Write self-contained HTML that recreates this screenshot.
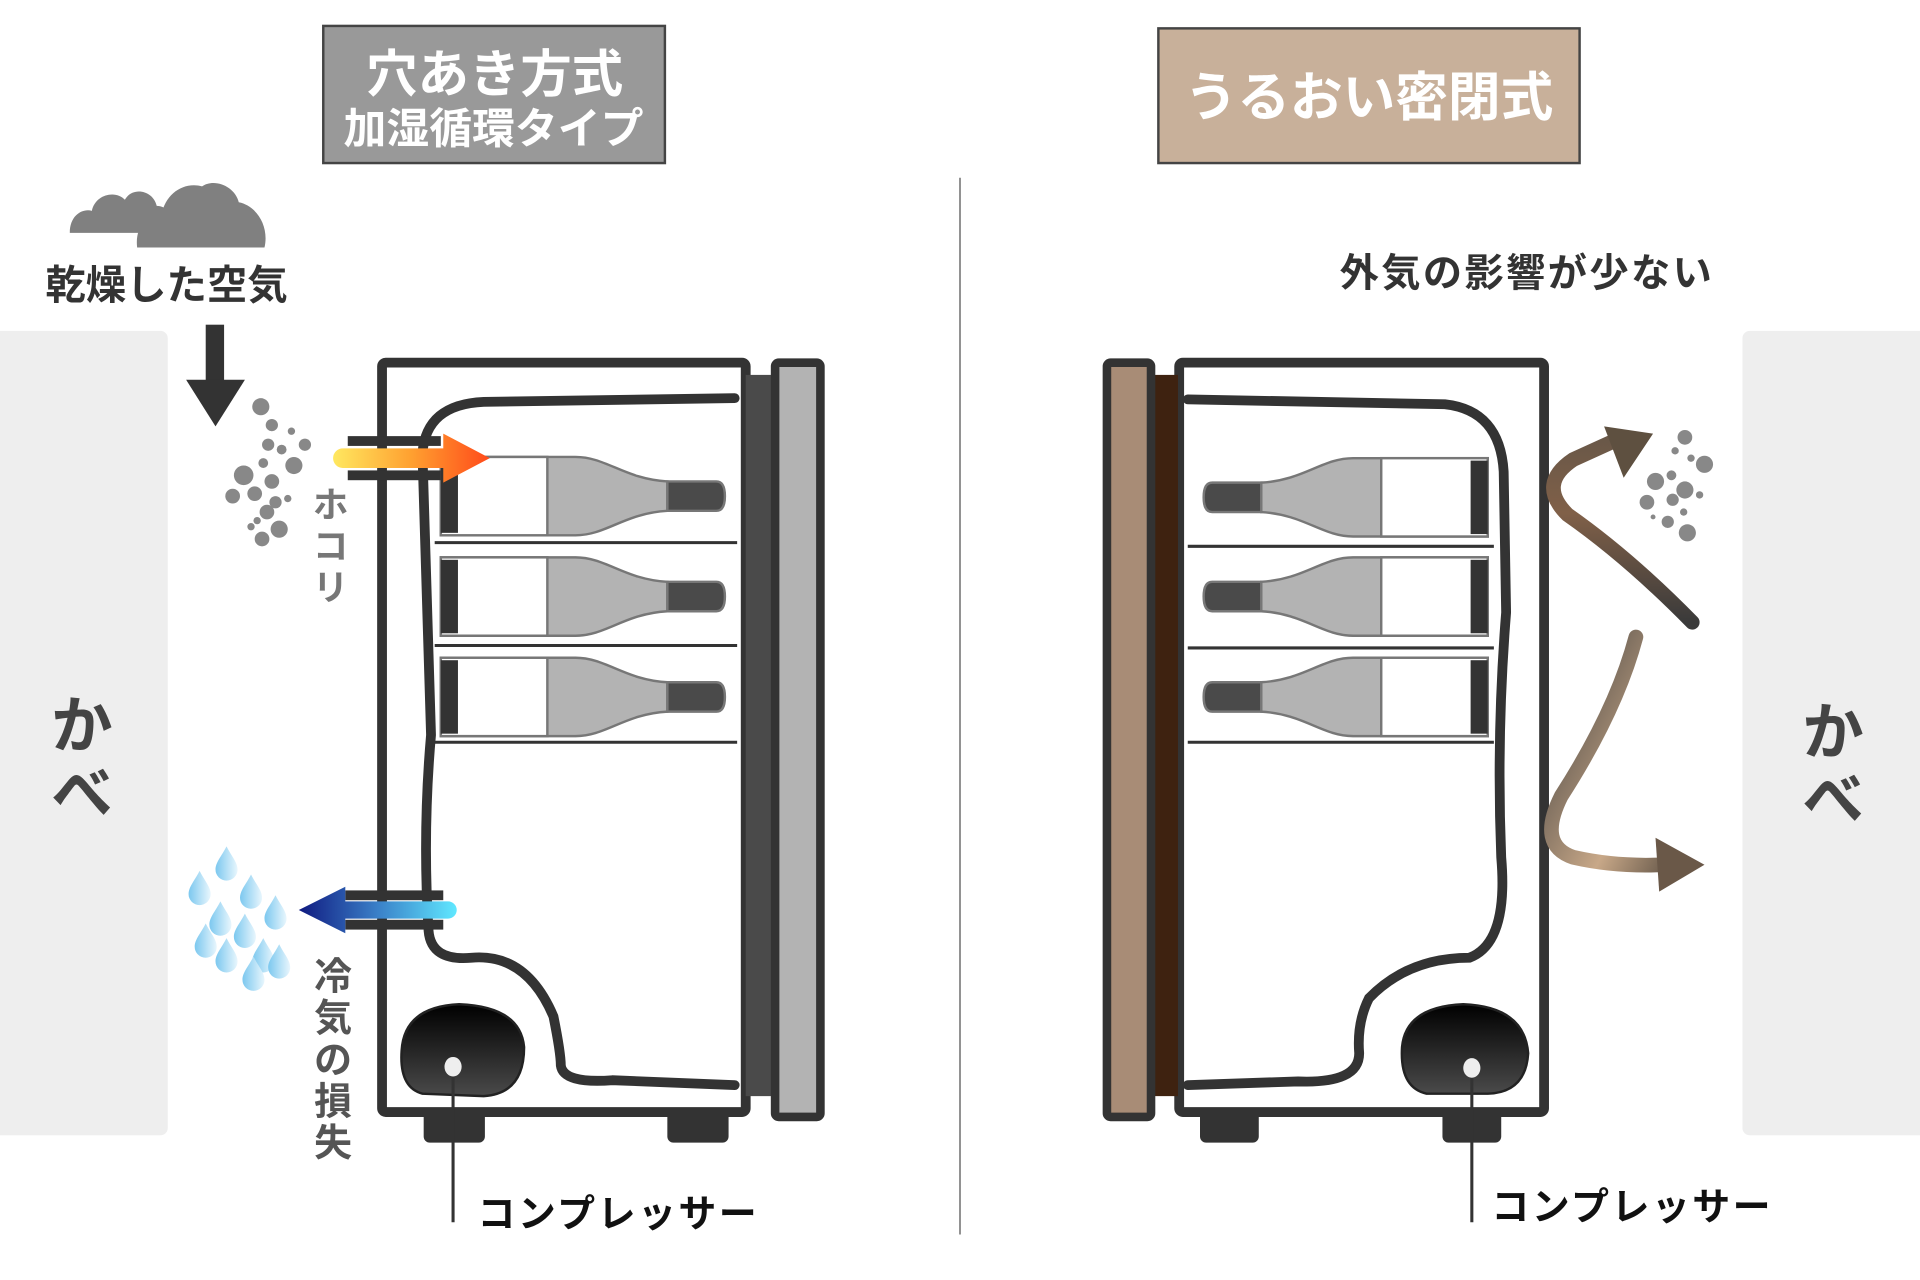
<!DOCTYPE html>
<html><head><meta charset="utf-8"><style>
html,body{margin:0;padding:0;background:#fff;width:1920px;height:1280px;overflow:hidden}
svg{display:block}
text{font-family:"Liberation Sans","Noto Sans CJK JP",sans-serif;font-weight:bold}
</style></head><body>
<svg width="1920" height="1280" viewBox="0 0 1568 1045" xmlns="http://www.w3.org/2000/svg">
<defs>
<linearGradient id="hot" x1="0" x2="1"><stop offset="0" stop-color="#ffe860"/><stop offset="0.5" stop-color="#ffa030"/><stop offset="1" stop-color="#ff4a1a"/></linearGradient>
<linearGradient id="cold" x1="0" x2="1"><stop offset="0" stop-color="#101a80"/><stop offset="0.5" stop-color="#3a80c8"/><stop offset="1" stop-color="#60e8ff"/></linearGradient>
<linearGradient id="comp" x1="0" y1="0" x2="0" y2="1"><stop offset="0" stop-color="#000"/><stop offset="1" stop-color="#4a4a4a"/></linearGradient>
<linearGradient id="drop" x1="0" x2="1"><stop offset="0" stop-color="#7cc8ef"/><stop offset="1" stop-color="#e8f6fd"/></linearGradient>
<linearGradient id="br1" x1="0" y1="1" x2="0" y2="0"><stop offset="0" stop-color="#3a3a3a"/><stop offset="0.6" stop-color="#806048"/><stop offset="1" stop-color="#6a5848"/></linearGradient>
<linearGradient id="br2" x1="0" y1="0" x2="1" y2="1"><stop offset="0" stop-color="#3a3a3a"/><stop offset="0.7" stop-color="#c8a888"/><stop offset="1" stop-color="#706050"/></linearGradient>
<g id="bot">
<path d="M0,0 H110 C135,0 150,18 185,20 V44 C150,46 135,64 110,64 H0 Z" fill="#b3b3b3" stroke="#777" stroke-width="2"/>
<rect x="0" y="0" width="87" height="64" fill="#fff" stroke="#777" stroke-width="2"/>
<rect x="0" y="2" width="14" height="60" fill="#333"/>
<path d="M185,20 H225 Q232,20 232,32 Q232,44 225,44 H185 Z" fill="#4a4a4a" stroke="#777" stroke-width="2"/>
</g>
<g id="drp"><path d="M0,-14 C4,-6 9,-1 9,5 A9,9 0 0 1 -9,5 C-9,-1 -4,-6 0,-14Z" fill="url(#drop)"/></g>
</defs>

<rect x="-10" y="270" width="147" height="657" rx="6" fill="#eee"/>
<rect x="1423" y="270" width="160" height="657" rx="6" fill="#eee"/>
<text x="67" y="610" font-size="50" fill="#444" text-anchor="middle">か</text>
<text x="67" y="665" font-size="50" fill="#444" text-anchor="middle">べ</text>
<text x="1497" y="615" font-size="50" fill="#444" text-anchor="middle">か</text>
<text x="1497" y="670" font-size="50" fill="#444" text-anchor="middle">べ</text>

<line x1="784" y1="145" x2="784" y2="1008" stroke="#888" stroke-width="1.5"/>

<rect x="264" y="21" width="279" height="112" fill="#999" stroke="#444" stroke-width="2"/>
<text x="404" y="75" font-size="42" fill="#fff" text-anchor="middle">穴あき方式</text>
<text x="403" y="117" font-size="35" fill="#fff" text-anchor="middle">加湿循環タイプ</text>
<rect x="946" y="23" width="344" height="110" fill="#c8b09a" stroke="#444" stroke-width="2"/>
<text x="1118" y="94" font-size="43" fill="#fff" text-anchor="middle">うるおい密閉式</text>

<g fill="#808080">
<path d="M57,190 C57,175 68,170 75,172 C78,158 95,155 102,163 C108,152 125,155 128,168 C138,168 145,180 140,190Z"/>
<path d="M112,202 C110,185 120,175 132,175 C135,158 150,148 165,152 C175,145 192,152 195,165 C210,168 220,185 216,202Z"/>
</g>
<text x="136" y="244" font-size="33" fill="#333" text-anchor="middle">乾燥した空気</text>
<rect x="168" y="265" width="15" height="48" fill="#333"/>
<polygon points="152,310 200,310 176,348" fill="#333"/>

<g fill="#888">
<circle cx="213" cy="332" r="7"/><circle cx="222" cy="347" r="5"/><circle cx="238" cy="352" r="3"/><circle cx="219" cy="363" r="5"/><circle cx="230" cy="367" r="4"/><circle cx="240" cy="380" r="7"/><circle cx="249" cy="363" r="5"/><circle cx="215" cy="378" r="4"/><circle cx="222" cy="393" r="6"/><circle cx="199" cy="388" r="8"/><circle cx="225" cy="410" r="5"/><circle cx="208" cy="403" r="6"/><circle cx="218" cy="418" r="6"/><circle cx="190" cy="405" r="6"/><circle cx="210" cy="425" r="3"/><circle cx="214" cy="440" r="6"/><circle cx="228" cy="432" r="7"/><circle cx="205" cy="430" r="3"/><circle cx="235" cy="407" r="3"/>
</g>
<g font-size="29" fill="#777" text-anchor="middle"><text x="270" y="422">ホ</text><text x="270" y="456">コ</text><text x="270" y="490">リ</text></g>

<g>
<use href="#drp" x="185" y="705"/><use href="#drp" x="163" y="725"/><use href="#drp" x="205" y="728"/><use href="#drp" x="225" y="745"/><use href="#drp" x="180" y="750"/><use href="#drp" x="200" y="760"/><use href="#drp" x="215" y="780"/><use href="#drp" x="185" y="780"/><use href="#drp" x="228" y="785"/><use href="#drp" x="207" y="795"/><use href="#drp" x="168" y="768"/>
</g>
<g font-size="31" fill="#555" text-anchor="middle"><text x="272" y="808">冷</text><text x="272" y="842">気</text><text x="272" y="876">の</text><text x="272" y="910">損</text><text x="272" y="944">失</text></g>

<!-- LEFT FRIDGE -->
<rect x="346" y="900" width="50" height="33" rx="5" fill="#333"/>
<rect x="545" y="900" width="50" height="33" rx="5" fill="#333"/>
<rect x="312" y="296" width="297" height="612" rx="3" fill="#fff" stroke="#333" stroke-width="8"/>
<rect x="609" y="306" width="22" height="589" fill="#4a4a4a"/>
<rect x="633" y="296" width="37" height="616" rx="3" fill="#b3b3b3" stroke="#333" stroke-width="7"/>
<g stroke="#333" stroke-width="2.5"><line x1="355" y1="443" x2="602" y2="443"/><line x1="355" y1="527" x2="602" y2="527"/><line x1="355" y1="606" x2="602" y2="606"/></g>
<use href="#bot" x="360" y="373"/><use href="#bot" x="360" y="455"/><use href="#bot" x="360" y="537"/>
<path d="M600,325 L395,328 Q348,330 345,370 L352,600 Q345,680 350,760 Q352,785 385,782 Q430,778 452,830 Q458,860 458,870 Q460,885 500,882 L600,886" fill="none" stroke="#333" stroke-width="8" stroke-linecap="round"/>
<path d="M328,858 Q330,822 375,820 Q425,822 428,855 Q428,893 395,895 L345,893 Q326,888 328,858Z" fill="url(#comp)" stroke="#222" stroke-width="2"/>
<line x1="370" y1="872" x2="370" y2="998" stroke="#333" stroke-width="2.5"/>
<ellipse cx="370" cy="871" rx="7" ry="8" fill="#eee"/>
<text x="390" y="1002" font-size="31" fill="#111" letter-spacing="2">コンプレッサー</text>
<rect x="284" y="356" width="76" height="8" fill="#333"/><rect x="284" y="384" width="76" height="8" fill="#333"/>
<path d="M280,366 H362 V354 L400,374 L362,394 V382 H280 A8,8 0 0 1 280,366Z" fill="url(#hot)"/>
<rect x="282" y="727" width="80" height="8" fill="#333"/><rect x="282" y="751" width="80" height="8" fill="#333"/>
<path d="M366,736 A7,7 0 0 1 366,750 H282 V762 L244,743 L282,724 V736Z" fill="url(#cold)"/>

<!-- RIGHT -->
<text x="1247" y="234" font-size="32" fill="#333" text-anchor="middle" letter-spacing="2">外気の影響が少ない</text>
<rect x="980" y="900" width="48" height="33" rx="5" fill="#333"/>
<rect x="1178" y="900" width="48" height="33" rx="5" fill="#333"/>
<rect x="963" y="296" width="298" height="612" rx="3" fill="#fff" stroke="#333" stroke-width="8"/>
<rect x="940" y="306" width="22" height="589" fill="#3e2210"/>
<rect x="904" y="296" width="36" height="616" rx="3" fill="#a88c76" stroke="#333" stroke-width="7"/>
<g stroke="#333" stroke-width="2.5"><line x1="970" y1="446" x2="1220" y2="446"/><line x1="970" y1="529" x2="1220" y2="529"/><line x1="970" y1="606" x2="1220" y2="606"/></g>
<g transform="translate(1215,0) scale(-1,1)"><use href="#bot" x="0" y="374"/><use href="#bot" x="0" y="455"/><use href="#bot" x="0" y="537"/></g>
<path d="M970,326 L1180,330 Q1225,335 1228,385 L1230,500 Q1222,600 1226,700 Q1232,770 1200,782 Q1150,782 1118,815 Q1108,835 1110,860 Q1110,885 1060,883 L970,886" fill="none" stroke="#333" stroke-width="8" stroke-linecap="round"/>
<path d="M1145,855 Q1148,822 1195,820 Q1245,822 1248,860 Q1246,892 1215,893 L1165,893 Q1143,888 1145,855Z" fill="url(#comp)" stroke="#222" stroke-width="2"/>
<line x1="1202" y1="873" x2="1202" y2="998" stroke="#333" stroke-width="2.5"/>
<ellipse cx="1202" cy="872" rx="7" ry="8" fill="#eee"/>
<text x="1218" y="996" font-size="31" fill="#111" letter-spacing="2">コンプレッサー</text>
<path d="M1382,508 Q1330,455 1280,420 Q1255,395 1285,375 L1318,360" fill="none" stroke="url(#br1)" stroke-width="12" stroke-linecap="round"/>
<polygon points="1310,348 1350,354 1326,390" fill="#5e5040"/>
<path d="M1336,520 Q1320,580 1275,650 Q1255,690 1285,700 Q1320,708 1360,706" fill="none" stroke="url(#br2)" stroke-width="12" stroke-linecap="round"/>
<polygon points="1352,684 1392,706 1355,728" fill="#6a5848"/>
<g fill="#888">
<circle cx="1376" cy="357" r="6"/><circle cx="1368" cy="368" r="3"/><circle cx="1381" cy="374" r="3"/><circle cx="1392" cy="379" r="7"/><circle cx="1365" cy="388" r="4"/><circle cx="1352" cy="393" r="7"/><circle cx="1376" cy="400" r="7"/><circle cx="1388" cy="404" r="3"/><circle cx="1366" cy="408" r="5"/><circle cx="1345" cy="410" r="6"/><circle cx="1375" cy="418" r="3"/><circle cx="1362" cy="426" r="5"/><circle cx="1378" cy="435" r="7"/><circle cx="1350" cy="422" r="2"/>
</g>
</svg>
</body></html>
